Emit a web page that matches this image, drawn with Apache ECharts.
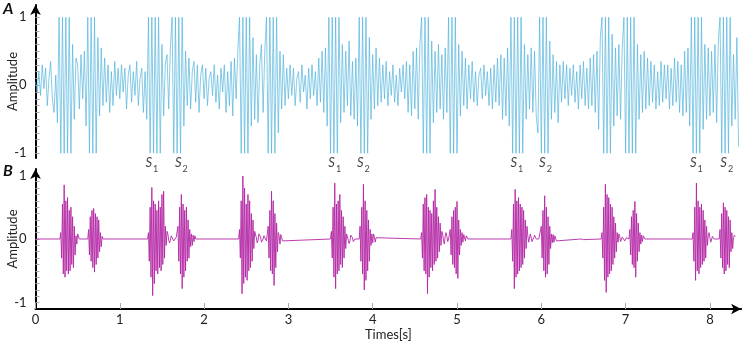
<!DOCTYPE html>
<html>
<head>
<meta charset="utf-8">
<script src="https://cdn.jsdelivr.net/npm/echarts@6.0.0/dist/echarts.min.js"></script>
<style>html,body{margin:0;padding:0;background:#fff}#c{width:747px;height:341px}</style>
</head>
<body>
<div id="c"></div>
<script>
// ---------- DATA ----------
// Panel A: noisy recording, sampled every 0.02 s (clipped to ±1)
const noisyStep = 0.02;
const noisyValues = [
 0.05,-0.1,0.2,-0.15,0.3,-0.05,0.25,-0.3,0.1,0.35,-0.2,-0.4,0.15,-0.55,1,-1,1,-1,1,-1,1,-1,0.6,-0.5,0.4,
 0.3,-0.35,0.45,-0.2,0.5,-0.6,1,-1,1,-1,1,-1,0.7,-0.45,0.55,-0.3,0.4,-0.25,0.3,-0.4,0.2,-0.3,0.35,-0.15,0.25,
 -0.2,0.3,-0.1,0.25,-0.35,0.15,0.3,-0.25,0.2,-0.15,0.35,-0.3,0.1,0.25,-0.4,0.2,-0.5,1,-1,1,-1,1,-1,1,-1,
 0.6,-0.45,0.3,0.45,-0.35,0.55,1,-1,1,-1,1,-1,1,-0.6,0.5,-0.3,0.4,-0.35,0.2,0.35,-0.25,0.3,-0.4,0.15,0.3,
 -0.2,0.25,-0.3,0.1,0.2,-0.15,0.3,-0.25,0.15,-0.35,0.25,-0.1,0.3,-0.4,0.2,-0.3,0.35,-0.45,0.4,-0.2,0.5,1,-1,1,-1,
 1,-1,1,-0.6,0.7,-0.5,0.45,-0.55,0.3,0.6,-0.4,0.5,1,-1,1,-1,1,-1,1,-0.7,0.5,-0.35,0.45,-0.3,0.25,
 -0.2,0.3,-0.15,0.25,-0.3,0.1,0.2,-0.25,0.3,-0.1,0.15,-0.35,0.25,-0.2,0.3,-0.15,0.2,-0.3,0.4,-0.25,0.5,-0.4,0.55,-0.6,1,
 -1,1,-1,1,-1,1,-0.55,0.6,-0.4,0.5,-0.3,0.65,-0.45,0.35,-0.5,0.4,-0.6,1,-1,1,-1,1,-1,0.7,-0.5,
 0.45,-0.35,0.55,-0.3,0.4,-0.25,0.3,-0.2,0.35,-0.3,0.2,-0.15,0.3,-0.25,0.15,-0.3,0.25,-0.1,0.3,-0.2,0.35,-0.4,0.3,-0.45,0.5,
 -0.35,0.55,-0.5,0.6,1,-1,1,-1,1,-1,0.65,-0.55,0.5,-0.4,0.6,-0.35,0.45,-0.5,0.55,-0.4,1,-1,1,-1,1,
 -1,0.6,-0.45,0.5,-0.3,0.4,-0.35,0.3,-0.2,0.35,-0.25,0.2,-0.3,0.15,0.25,-0.2,0.3,-0.15,0.2,-0.3,0.25,-0.35,0.3,-0.25,0.4,
 -0.3,0.45,-0.5,0.4,-0.45,0.55,-0.6,1,-1,1,-1,1,-1,1,-1,0.6,-0.5,0.45,-0.35,0.55,-0.4,0.5,-0.45,-0.7,1,
 -1,1,-1,1,-1,0.65,-0.5,0.45,-0.4,0.35,-0.55,0.3,-0.25,0.35,-0.2,0.3,-0.3,0.25,-0.15,0.3,-0.25,0.2,-0.35,0.3,-0.2,
 0.35,-0.3,0.25,-0.35,0.4,-0.3,0.45,-0.4,0.5,-0.65,0.7,1,-1,1,-1,1,-1,0.75,-0.6,0.55,-0.45,0.6,-0.5,0.55,1,
 -1,1,-1,1,-1,1,-1,0.6,-0.5,0.45,-0.4,0.5,-0.35,0.4,-0.3,0.35,-0.25,0.3,-0.35,0.2,-0.3,0.35,-0.25,0.3,-0.2,
 0.3,-0.35,0.25,-0.3,0.4,-0.25,0.35,-0.4,0.3,-0.45,0.5,-0.4,0.55,-0.6,1,-1,1,-1,1,-1,1,-0.65,0.6,-0.5,0.55,
 -0.45,0.5,-0.4,0.6,-0.55,0.65,1,-1,1,-1,1,-1,1,-0.6,0.45,-0.5,0.7,-0.9
];

// Panel B: clean heart sound; silent (0) between sounds, sounds sampled every 0.01 s
const pcgStep = 0.01;
const pcgStarts = [0.29,0.62,1.33,1.68,2.41,2.75,3.50,3.84,4.57,4.91,5.64,5.99,6.47,6.71,7.04,7.79,8.11];
const pcgS1a = [0,0.1,-0.3,0.55,-0.55,0.85,-0.6,0.6,-0.5,0.65,-0.55,0.45,-0.5,0.5,-0.4,0.35,-0.45,0.2,-0.25,0.05,-0.08,0.08,0.06,0];
const pcgS2a = [0,0.15,-0.25,0.35,-0.35,0.45,-0.45,0.48,-0.52,0.4,-0.4,0.35,-0.3,0.3,-0.2,0.1,-0.12,0.04,0];
const pcgS1b = [0,0.1,-0.35,0.5,-0.6,0.81,-0.89,0.6,-0.7,0.55,-0.5,0.45,-0.55,0.6,-0.45,0.5,-0.5,0.7,-0.4,0.75,-0.3,0.2,-0.1,0.12,0.08,-0.02,-0.06,-0.02,0.05,0.08,0.04,-0.03,-0.05,0,0.03];
const pcgS2b = [0,0.2,-0.35,0.5,-0.55,0.7,-0.78,0.55,-0.6,0.45,-0.5,0.5,-0.35,0.3,-0.3,0.15,-0.12,0.08,-0.1,0.06,-0.04,0.05,0];
const pcgS1c = [0,0.15,-0.3,0.6,-0.86,0.99,-0.7,0.8,-0.6,0.55,-0.65,0.7,-0.5,0.6,-0.45,0.4,-0.35,0.3,-0.15,0.12,0.1,0.02,-0.06,-0.02,0.08,0.1,0.03,-0.05,-0.08,0,0.05,0.07,0.02,-0.03];
const pcgS2c = [0,0.2,-0.3,0.45,-0.5,0.75,-0.55,0.6,-0.73,0.4,-0.45,0.25,-0.2,0.1,0.05,-0.08,0.07,0.02,-0.03,0];
const pcgS1d = [0,0.12,-0.3,0.5,-0.6,0.88,-0.78,0.55,-0.55,0.6,-0.5,0.7,-0.4,0.45,-0.45,0.35,-0.3,0.2,-0.15,0.08,0.1,-0.02,-0.07,-0.03,0.06,0.08,0.02,-0.04,-0.06,0,0.03];
const pcgS2d = [0,0.2,-0.35,0.5,-0.55,0.86,-0.8,0.6,-0.65,0.45,-0.5,0.3,-0.35,0.15,-0.1,0.08,-0.06,0.08,0.03,-0.05,0.02,0];
const pcgS1e = [0,0.1,-0.3,0.55,-0.5,0.65,-0.55,0.7,-0.86,0.5,-0.6,0.45,-0.45,0.4,-0.5,0.6,-0.4,0.78,-0.35,0.5,-0.3,0.35,-0.2,0.25,-0.1,0.12,0.08,-0.03,-0.08,0.05,0.1,0.04,-0.04,0];
const pcgS2e = [0,0.15,-0.25,0.35,-0.4,0.45,-0.45,0.5,-0.55,0.59,-0.62,0.3,-0.25,0.15,-0.1,0.1,-0.05,0.07,0.04,-0.03,0.05,0.02,0];
const pcgS1f = [0,0.15,-0.35,0.55,-0.78,0.78,-0.6,0.6,-0.55,0.65,-0.5,0.55,-0.45,0.5,-0.4,0.45,-0.3,0.3,-0.15,0.2,0.05,-0.05,-0.02,0.08,0.05,-0.04,-0.06,0.02,0.06,0.03,0,-0.02,0.02,0];
const pcgS2f = [0,0.2,-0.3,0.45,-0.5,0.68,-0.6,0.5,-0.55,0.35,-0.4,0.2,-0.15,0.08,-0.06,0.07,-0.05,0.05,0.03,-0.03,0];
const pcgBlip = [0,0.03,0.02,-0.01,0];
const pcgS1g = [0,0.1,-0.3,0.5,-0.65,0.86,-0.84,0.7,-0.6,0.65,-0.55,0.55,-0.5,0.5,-0.4,0.35,-0.3,0.25,-0.2,0.1,-0.05,0.08,0.04,-0.04,-0.06,0.03,0.06,0.02,-0.03,-0.05,0.02,0.04,0];
const pcgS2g = [0,0.15,-0.25,0.35,-0.4,0.45,-0.45,0.59,-0.6,0.4,-0.35,0.25,-0.2,0.1,-0.08,0.06,-0.04,0.05,0.02,0];
const pcgS1h = [0,0.1,-0.35,0.5,-0.65,0.88,-0.5,0.6,-0.55,0.5,-0.45,0.55,-0.4,0.45,-0.35,0.3,-0.3,0.2,-0.1,0.05,0.1,0.02,-0.05,-0.02,0.04,0.02,0];
const pcgS2h = [0,0.15,-0.3,0.4,-0.45,0.57,-0.55,0.5,-0.5,0.45,-0.4,0.35,-0.45,0.3,-0.2,0.1,-0.15,0.02,0.06,0.04];
const pcgSounds = [pcgS1a,pcgS2a,pcgS1b,pcgS2b,pcgS1c,pcgS2c,pcgS1d,pcgS2d,pcgS1e,pcgS2e,pcgS1f,pcgS2f,pcgBlip,pcgS1g,pcgS2g,pcgS1h,pcgS2h];

// S1 / S2 annotations under panel A
const soundLabelTimes = [1.38,1.73,3.55,3.89,5.71,6.05,7.84,8.2];
const soundLabelSubs = ['1','2','1','2','1','2','1','2'];

// ticks
const xTickValues = [0,1,2,3,4,5,6,7,8];
const yTickValues = [-1,-0.9,-0.8,-0.7,-0.6,-0.5,-0.4,-0.3,-0.2,-0.1,0,0.1,0.2,0.3,0.4,0.5,0.6,0.7,0.8,0.9,1];
const yLabelValues = [-1,0,1];

// ---------- CHART ----------
const X_MAX = 8.37;
const A_MIN = -1.07, A_MAX = 1.18;
const B_MIN = -1.1, B_MAX = 1.1;
const FONT = 'Lato';

const aData = noisyValues.map((v, i) => [+(i * noisyStep).toFixed(3), v]);
const bData = [[0, 0]];
pcgStarts.forEach((s, k) => {
  pcgSounds[k].forEach((v, j) => bData.push([+(s + j * pcgStep).toFixed(3), v]));
});
const labelData = soundLabelTimes.map((t, k) => ({
  value: [t, A_MIN],
  label: { formatter: '{s|S}{n|' + soundLabelSubs[k] + '}' }
}));

function yAxisCfg(idx, min, max) {
  return {
    type: 'value', gridIndex: idx, min: min, max: max,
    name: 'Amplitude', nameLocation: 'middle', nameGap: 16, nameMoveOverlap: false,
    nameTextStyle: { fontFamily: FONT, fontSize: 13, color: '#222' },
    axisLine: { show: true, onZero: false, symbol: ['none', 'arrow'], symbolSize: [8, 10],
      lineStyle: { color: '#000', width: 2 } },
    axisTick: { show: true, inside: true, length: 4, customValues: yTickValues,
      lineStyle: { color: '#aaa', width: 1 } },
    axisLabel: { show: true, customValues: yLabelValues, margin: 9,
      fontFamily: FONT, fontSize: 13, color: '#222' },
    splitLine: { show: false }
  };
}

const chart = echarts.init(document.getElementById('c'));
chart.setOption({
  animation: false,
  backgroundColor: '#fff',
  title: [
    { text: 'A', left: 3, top: 1, padding: 0,
      textStyle: { fontFamily: FONT, fontSize: 16, fontWeight: 'bold', fontStyle: 'italic', color: '#111' } },
    { text: 'B', left: 3, top: 163, padding: 0,
      textStyle: { fontFamily: FONT, fontSize: 16, fontWeight: 'bold', fontStyle: 'italic', color: '#111' } }
  ],
  grid: [
    { left: 35.5, top: 5, width: 705.6, height: 153, containLabel: false, outerBoundsMode: 'none' },
    { left: 35.5, top: 169, width: 705.6, height: 140, containLabel: false, outerBoundsMode: 'none' }
  ],
  xAxis: [
    { type: 'value', gridIndex: 0, min: 0, max: X_MAX, show: false },
    { type: 'value', gridIndex: 1, min: 0, max: X_MAX,
      name: 'Times[s]', nameLocation: 'middle', nameGap: 19, nameMoveOverlap: false,
      nameTextStyle: { fontFamily: FONT, fontSize: 13, color: '#222' },
      axisLine: { show: true, onZero: false, symbol: ['none', 'arrow'], symbolSize: [8, 10],
        lineStyle: { color: '#000', width: 2 } },
      axisTick: { show: true, inside: true, length: 6, customValues: xTickValues,
        lineStyle: { color: '#aaa', width: 1 } },
      axisLabel: { customValues: xTickValues, margin: 4,
        fontFamily: FONT, fontSize: 13, color: '#222' },
      splitLine: { show: false } }
  ],
  yAxis: [ yAxisCfg(0, A_MIN, A_MAX), yAxisCfg(1, B_MIN, B_MAX) ],
  series: [
    { type: 'line', xAxisIndex: 0, yAxisIndex: 0, data: aData, showSymbol: false,
      lineStyle: { color: '#4fb2dc', width: 0.8, opacity: 0.85 }, sampling: null, silent: true },
    { type: 'line', xAxisIndex: 1, yAxisIndex: 1, data: bData, showSymbol: false,
      lineStyle: { color: '#b327a5', width: 0.9 }, silent: true },
    { type: 'scatter', xAxisIndex: 0, yAxisIndex: 0, data: labelData, symbolSize: 0, clip: false, silent: true,
      label: { show: true, position: 'inside', offset: [0, 5], color: '#111',
        rich: {
          s: { fontFamily: FONT, fontSize: 13, fontStyle: 'italic', color: '#111', lineHeight: 16 },
          n: { fontFamily: FONT, fontSize: 9, color: '#111', lineHeight: 9, verticalAlign: 'bottom', padding: [0,0,-3,1] }
        } } }
  ]
});
</script>
</body>
</html>
